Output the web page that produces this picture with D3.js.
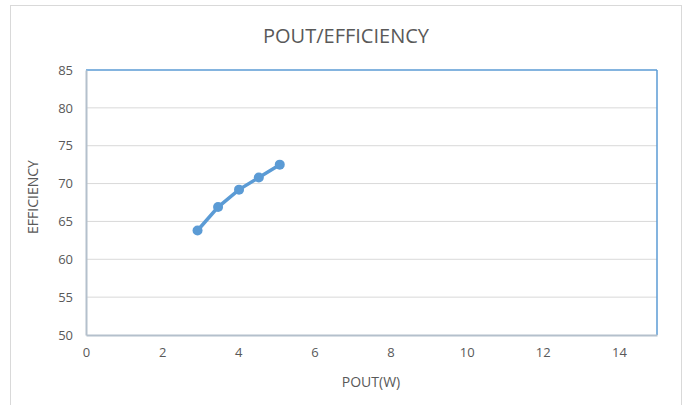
<!DOCTYPE html>
<html>
<head>
<meta charset="utf-8">
<script src="https://cdn.jsdelivr.net/npm/d3@7"></script>
<style>
  body { margin: 0; background: #fff; }
  text { font-family: "Open Sans", Lato, sans-serif; fill: #595959; }
</style>
</head>
<body>
<svg id="svg_chart" width="687" height="405"></svg>
<script>
const poutValues = [2.93, 3.47, 4.02, 4.54, 5.09]
const efficiencyValues = [63.8, 66.9, 69.2, 70.8, 72.5]
const xTicks = [0, 2, 4, 6, 8, 10, 12, 14]
const yTicks = [50, 55, 60, 65, 70, 75, 80, 85]

const svg = d3.select('#svg_chart')
const margin = { top: 70, right: 30, bottom: 70, left: 86 }
const width = 657 - margin.left
const height = 335 - margin.top

// outer chart frame
svg.append('rect')
  .attr('x', 10.5).attr('y', 5.5)
  .attr('width', 671).attr('height', 410)
  .attr('fill', '#fff')
  .attr('stroke', '#d9d9d9')

const x = d3.scaleLinear().domain([0, 15]).range([0, width])
const y = d3.scaleLinear().domain([50, 85]).range([height, 0])

const g = svg.append('g').attr('transform', `translate(${margin.left}, ${margin.top})`)

// gridlines
g.selectAll('.grid')
  .data(yTicks.filter(d => d > 50 && d < 85))
  .enter()
  .append('line')
  .attr('x1', 0).attr('x2', width)
  .attr('y1', d => y(d)).attr('y2', d => y(d))
  .attr('stroke', '#d9d9d9')
  .attr('stroke-width', 1)

// top and right border in blue
g.append('line').attr('x1', 0).attr('x2', width).attr('y1', 0).attr('y2', 0)
  .attr('stroke', '#5b9bd5').attr('stroke-width', 1.5)
g.append('line').attr('x1', width).attr('x2', width).attr('y1', 0).attr('y2', height)
  .attr('stroke', '#5b9bd5').attr('stroke-width', 1.5)

// axes
const xAxis = g.append('g')
  .attr('transform', `translate(0, ${height})`)
  .call(d3.axisBottom(x).tickValues(xTicks).tickSize(0).tickPadding(13))
xAxis.select('.domain').attr('stroke', '#b4c0cc').attr('stroke-width', 2)
xAxis.selectAll('text').style('font-size', '13px')

const yAxis = g.append('g')
  .call(d3.axisLeft(y).tickValues(yTicks).tickSize(0).tickPadding(13))
yAxis.select('.domain').attr('stroke', '#b4c0cc').attr('stroke-width', 2)
yAxis.selectAll('text').style('font-size', '13px')

// series
const line = d3.line()
  .x((d, i) => x(poutValues[i]))
  .y(d => y(d))

g.append('path')
  .datum(efficiencyValues)
  .attr('d', line)
  .attr('fill', 'none')
  .attr('stroke', '#5b9bd5')
  .attr('stroke-width', 3.5)

g.selectAll('circle')
  .data(efficiencyValues)
  .enter()
  .append('circle')
  .attr('cx', (d, i) => x(poutValues[i]))
  .attr('cy', d => y(d))
  .attr('r', 5)
  .attr('fill', '#5b9bd5')

// titles
svg.append('text')
  .text('POUT/EFFICIENCY')
  .attr('x', 346).attr('y', 43)
  .attr('text-anchor', 'middle')
  .style('font-size', '20px')

svg.append('text')
  .text('POUT(W)')
  .attr('x', 371).attr('y', 387)
  .attr('text-anchor', 'middle')
  .style('font-size', '14px')

svg.append('text')
  .text('EFFICIENCY')
  .attr('transform', 'translate(38, 197) rotate(-90)')
  .attr('text-anchor', 'middle')
  .style('font-size', '14px')
</script>
</body>
</html>
